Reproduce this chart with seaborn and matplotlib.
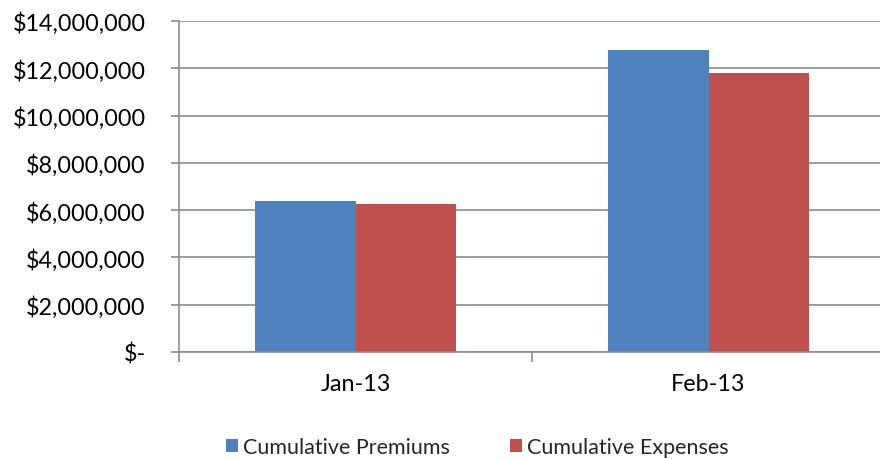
import matplotlib
matplotlib.use("Agg")
import matplotlib.pyplot as plt
import seaborn as sns
import pandas as pd
from matplotlib.patches import Patch
from matplotlib.ticker import FuncFormatter, FixedLocator

months = ["Jan-13", "Feb-13"]
series = ["Cumulative Premiums", "Cumulative Expenses"]
premiums = [6380000, 12770000]
expenses = [6250000, 11820000]
colors = ["#4F81BD", "#C0504D"]
yticks = [0, 2000000, 4000000, 6000000, 8000000, 10000000, 12000000, 14000000]

df = pd.DataFrame({
    "Month": months * 2,
    "Series": [series[0]] * 2 + [series[1]] * 2,
    "Value": premiums + expenses,
})

sns.set_theme(style="white")
plt.rcParams['font.family'] = ['Lato', 'DejaVu Sans']

fig = plt.figure(figsize=(8.8, 4.6), dpi=100)
ax = fig.add_axes([179/880, 1-353/460, (885-179)/880, (353-22)/460])

sns.barplot(data=df, x="Month", y="Value", hue="Series", order=months,
            hue_order=series, palette=colors, width=0.572, ax=ax,
            saturation=1, legend=False, errorbar=None, linewidth=0)

ax.set_xlim(-0.5, 1.5)
ax.set_ylim(0, 14000000)
ax.yaxis.set_major_locator(FixedLocator(yticks))
ax.yaxis.set_major_formatter(FuncFormatter(lambda v, p: "$-" if v == 0 else f"${v:,.0f}"))
ax.yaxis.grid(True, color="#8c8c8c", linewidth=1.2)
ax.set_axisbelow(True)
ax.set_xlabel("")
ax.set_ylabel("")
for s in ["top", "right"]:
    ax.spines[s].set_visible(False)
for s in ["left", "bottom"]:
    ax.spines[s].set_color("#8c8c8c")
    ax.spines[s].set_linewidth(1.2)

ax.tick_params(axis="y", which="major", left=True, length=6, width=1.2,
               color="#8c8c8c", labelsize=16.8, pad=18, labelcolor="black")
ax.tick_params(axis="x", which="major", bottom=False, labelsize=16.8, pad=9,
               labelcolor="black")
ax.set_xticks([-0.5, 0.5, 1.5], minor=True)
ax.tick_params(axis="x", which="minor", bottom=True, length=7, width=1.2,
               color="#8c8c8c")

for c, l, x0 in zip(colors, series, [226/880, 510/880]):
    h = Patch(facecolor=c, edgecolor="none", label=l)
    leg = fig.legend(handles=[h], loc="center left", bbox_to_anchor=(x0, 0.026),
                     frameon=False, fontsize=15.5, handlelength=0.55,
                     handleheight=0.55, handletextpad=0.25, borderpad=0,
                     borderaxespad=0)

fig.savefig("out.png", dpi=100)
